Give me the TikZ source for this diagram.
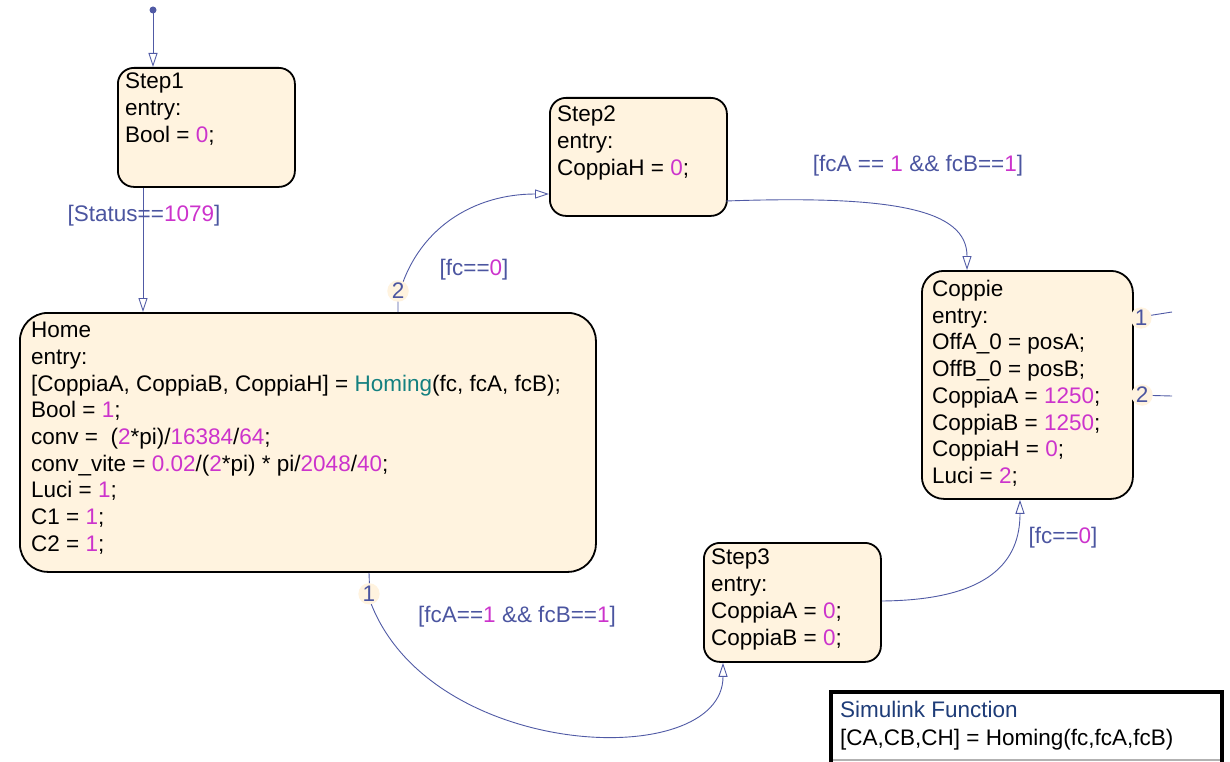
\documentclass[tikz,border=0pt]{standalone}
\usepackage{fontspec}
\setmainfont{Liberation Sans}
\usetikzlibrary{arrows.meta,calc}
\definecolor{fillc}{RGB}{255,243,223}
\definecolor{num}{RGB}{204,51,204}
\definecolor{teal2}{RGB}{20,128,128}
\definecolor{lab}{RGB}{75,85,160}
\definecolor{wire}{RGB}{80,90,165}
\definecolor{sfblue}{RGB}{30,60,120}
\newcommand\nm[1]{\textcolor{num}{#1}}
\begin{document}
\begin{tikzpicture}[x=1pt,y=-1pt,
 state/.style={draw=black, line width=1.8pt, fill=fillc, rounded corners=16pt, inner sep=0pt, anchor=north west},
 body/.style={anchor=north west, inner sep=0pt, align=left, font=\fontsize{22.5}{26.7}\selectfont},
 guard/.style={text=lab, inner sep=1pt, font=\fontsize{22.5}{27}\selectfont},
 prio/.style={text=lab, fill=fillc, circle, inner sep=0.5pt, font=\fontsize{22.5}{27}\selectfont},
 tr/.style={draw=wire, line width=0.9pt, -{Triangle[open, length=14pt, width=9pt]}},
 wirel/.style={draw=wire, line width=0.9pt}]
\useasboundingbox (0,0) rectangle (1230,762);

% states
\node[state, minimum width=177pt, minimum height=119pt] (s1) at (117,67) {};
\node[body] (t1) at (125,73) {Step1\\entry:\\Bool = \nm{0};};

\node[state, minimum width=177pt, minimum height=118pt] (s2) at (549,97) {};
\node[body] (t2) at (557,106) {Step2\\entry:\\CoppiaH = \nm{0};};

\node[state, rounded corners=28pt, minimum width=576pt, minimum height=259pt] (home) at (19,312) {};
\node[body] (th) at (31,322) {Home\\entry:\\{}[CoppiaA, CoppiaB, CoppiaH] = \textcolor{teal2}{Homing}(fc, fcA, fcB);\\Bool = \nm{1};\\conv = \ (\nm{2}*pi)/\nm{16384}/\nm{64};\\conv\_vite = \nm{0.02}/(\nm{2}*pi) * pi/\nm{2048}/\nm{40};\\Luci = \nm{1};\\C1 = \nm{1};\\C2 = \nm{1};};

\node[state, rounded corners=22pt, minimum width=211pt, minimum height=228pt] (cop) at (921,270) {};
\node[body] (tc) at (932,280) {Coppie\\entry:\\OffA\_0 = posA;\\OffB\_0 = posB;\\CoppiaA = \nm{1250};\\CoppiaB = \nm{1250};\\CoppiaH = \nm{0};\\Luci = \nm{2};};

\node[state, minimum width=177pt, minimum height=119pt] (s3) at (703,542) {};
\node[body] (t3) at (711,549) {Step3\\entry:\\CoppiaA = \nm{0};\\CoppiaB = \nm{0};};

% default transition
\coordinate (init) at (153,10);
\fill[wire] (init) circle (3.5pt);
\draw[tr] (init) -- ($(s1.north west)+(36,0)$);

% Step1 -> Home
\draw[tr] ($(s1.south west)+(26,0)$) -- ($(home.north west)+(124,0)$);
\node[guard] (g1) at (144,216) {[Status==\nm{1079}]};

% Home -> Step2
\draw[tr] ($(home.north west)+(379,0)$) -- ++(0,-14) .. controls +(18,-70) and +(-75,0) .. ($(s2.north west)+(0,97)$);
\node[prio] (p2) at ($(home.north west)+(379,-21)$) {2};
\node[guard] (g2) at (474,270) {[fc==\nm{0}]};

% Step2 -> Coppie
\draw[tr] ($(s2.north west)+(177,104)$) .. controls +(170,-6) and +(0,-60) .. ($(cop.north west)+(46,0)$);
\node[guard] (g3) at (918,166) {[fcA == \nm{1} \&\& fcB==\nm{1}]};

% Home -> Step3
\draw[tr] ($(home.south west)+(350,0)$) -- ++(1,28) .. controls +(59,160) and +(0,110) .. ($(s3.south west)+(20,0)$);
\node[prio] (p1) at ($(home.south west)+(350,21)$) {1};
\node[guard] (g4) at (517,617) {[fcA==\nm{1} \&\& fcB==\nm{1}]};

% Step3 -> Coppie
\draw[tr] ($(s3.north east)+(0,59)$) .. controls +(110,-1) and +(0,60) .. ($(cop.south west)+(99,0)$);
\node[guard] (g5) at (1063,538) {[fc==\nm{0}]};

% Coppie exits
\coordinate (x1) at (1172,312);
\coordinate (x2) at (1172,396);
\draw[wirel] ($(cop.north east)+(0,48)$) -- (x1);
\node[prio] (c1) at (1141,318) {1};
\draw[wirel] ($(cop.north east)+(0,125)$) -- (x2);
\node[prio] (c2) at (1142,395) {2};

% Simulink function box
\fill[white] (831,692) rectangle (1222,762);
\draw[line width=4pt] (831,764) -- (831,692) -- (1222,692) -- (1222,764);
\draw[gray!60, line width=2pt] (833,760) -- (1220,760);
\node[anchor=west, inner sep=0pt, text=sfblue, font=\fontsize{22.5}{27}\selectfont] (sf1) at (840,709) {Simulink Function};
\node[anchor=west, inner sep=0pt, font=\fontsize{22.5}{27}\selectfont] (sf2) at (840,740) {[CA,CB,CH] = Homing(fc,fcA,fcB)};
\end{tikzpicture}
\end{document}
